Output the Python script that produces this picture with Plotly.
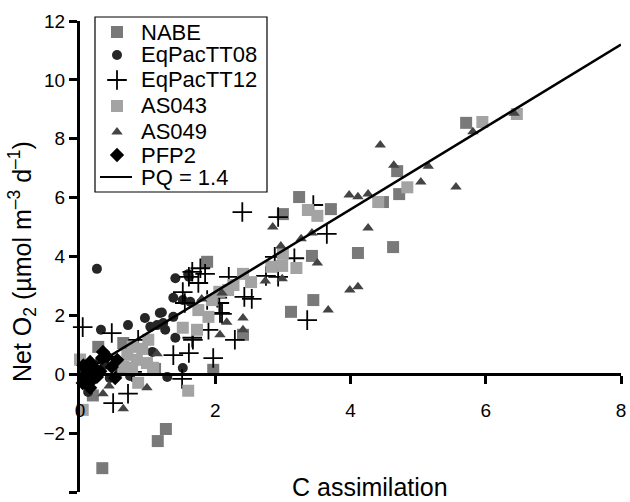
import plotly.graph_objects as go

# values (C assimilation vs net O2)
nabe_x = [5.71, 4.69, 4.72, 4.48, 4.63, 3.24, 3.71, 3.00, 4.11, 3.43, 3.45, 3.12,
          1.88, 2.41, 1.97, 0.27, 0.64, 1.11, 0.19, 1.27, 1.15, 0.33]
nabe_y = [8.54, 6.90, 6.12, 5.85, 4.32, 6.02, 5.61, 5.44, 4.12, 4.02, 2.52, 2.12,
          3.82, 1.34, 0.15, 0.93, 1.06, 0.18, -0.72, -1.86, -2.27, -3.19]

tt08_x = [0.25, 1.41, 1.61, 1.38, 1.52, 1.63, 1.21, 1.38, 1.41, 1.23, 0.31, 0.71,
          0.96, 1.18, 1.14, 1.04, 1.26, 1.07, 0.74, 1.29, 1.52, 0.03, 0.09, 0.22,
          0.37, 0.59, 0.44, 0.12, 0.30, 1.60]
tt08_y = [3.58, 3.26, 3.31, 2.60, 2.52, 2.46, 2.10, 1.95, 1.24, 1.74, 1.51, 1.67,
          1.91, 2.08, 1.67, 1.61, 1.51, 0.76, -0.06, -0.09, 0.21, -0.02, -0.36, 0.08,
          0.32, 0.08, -0.13, -0.60, 0.50, 3.40]

tt12_x = [2.40, 2.93, 3.45, 3.65, 2.88, 3.17, 2.75, 2.93, 3.36, 2.20, 2.43, 2.54,
          1.88, 2.06, 2.10, 2.29, 1.97, 1.78, 1.66, 1.61, 1.85, 1.75, 1.52, 1.55,
          2.03, 1.90, 1.66, 0.04, 0.47, 0.86, 0.77, 0.71, 1.51, 1.38, 1.61, 1.67,
          0.49, 2.07]
tt12_y = [5.51, 5.34, 5.75, 4.77, 3.99, 3.94, 3.34, 3.31, 1.84, 3.31, 2.63, 2.56,
          2.52, 2.42, 2.05, 1.17, 0.55, 3.60, 3.48, 3.31, 3.41, 3.10, 2.79, 2.42,
          2.60, 1.51, 1.24, 1.60, 1.40, 1.17, 0.08, -0.66, -0.16, 0.65, 0.72, 1.17,
          -0.98, 2.08]

as043_x = [5.95, 6.46, 4.84, 4.41, 3.37, 3.51, 3.00, 2.83, 2.99, 3.20, 2.41, 2.53,
           2.27, 2.19, 2.06, 1.95, 1.75, 1.90, 1.52, 1.73, 0.78, 0.92, 1.01, 0.00,
           0.70, 0.84, 0.99, 0.77, 0.64, 1.08, 0.86, 1.60, 0.04]
as043_y = [8.57, 8.84, 6.35, 5.85, 5.58, 5.38, 4.09, 3.65, 3.68, 3.61, 3.41, 3.13,
           3.03, 2.86, 2.80, 2.52, 2.18, 1.95, 1.58, 1.51, 0.93, 0.86, 1.17, 0.50,
           0.66, 0.49, 0.38, 0.22, 0.25, 0.22, -0.29, -0.56, -1.21]

as049_x = [5.81, 6.42, 4.44, 4.64, 5.15, 5.04, 5.56, 3.98, 4.11, 4.26, 2.85, 4.26,
           3.43, 3.27, 2.97, 3.51, 2.74, 2.99, 3.99, 4.11, 3.67, 2.10, 1.80, 2.17,
           2.41, 2.41, 2.07, 1.14, 0.99, 0.34, 0.43, 0.64]
as049_y = [8.24, 8.87, 7.79, 7.10, 7.07, 6.53, 6.36, 6.09, 6.03, 6.12, 5.00, 4.97,
           4.80, 4.60, 4.36, 3.78, 3.17, 3.24, 2.86, 2.97, 2.18, 2.76, 2.56, 1.77,
           1.91, 1.51, 1.34, 0.70, -0.46, -0.66, -0.40, -1.17]

pfp2_x = [0.15, 0.34, 0.33, 0.55, 0.47, 0.10, 0.25, 0.04, 0.15, 0.52, 0.20, 0.08,
          0.30, 0.12, 0.40, 0.05, 0.18]
pfp2_y = [0.42, 0.76, 0.55, 0.49, 0.25, 0.15, -0.09, -0.30, -0.46, -0.13, 0.25, -0.10,
          0.10, 0.05, 0.60, 0.30, -0.20]

pq = 1.4
line_x = [0, 8]
line_y = [pq * v for v in line_x]

font = "Liberation Sans, Arial, Helvetica, sans-serif"

W, H = 630, 502
L, R, T, B = 80, 9, 21, 10


def px(xp):
    # pixel column -> paper x
    return (xp - L) / (W - L - R)


def py(yp):
    # pixel row -> paper y
    return (H - B - yp) / (H - T - B)


series = [
    ("NABE", nabe_x, nabe_y, dict(symbol="square", size=12, color="#797979", line=dict(width=0))),
    ("EqPacTT08", tt08_x, tt08_y, dict(symbol="circle", size=10, color="#262626", line=dict(width=0))),
    ("EqPacTT12", tt12_x, tt12_y, dict(symbol="cross-thin", size=14, color="black",
                                       line=dict(width=1.8, color="black"))),
    ("AS043", as043_x, as043_y, dict(symbol="square", size=12, color="#a3a3a3", line=dict(width=0))),
    ("AS049", as049_x, as049_y, dict(symbol="triangle-up", size=10, color="#444444", line=dict(width=0))),
    ("PFP2", pfp2_x, pfp2_y, dict(symbol="diamond", size=11, color="black", line=dict(width=0))),
]

fig = go.Figure()
for name, xs, ys, mk in series:
    fig.add_trace(go.Scatter(x=xs, y=ys, mode="markers", name=name, cliponaxis=False,
                             marker=mk, showlegend=False))
fig.add_trace(go.Scatter(x=line_x, y=line_y, mode="lines", name="PQ = 1.4",
                         line=dict(color="black", width=2.5), showlegend=False))

# hand-made legend (tighter rows than plotly's own legend)
rows = [32, 55, 80, 106, 132, 155, 177]
annos = []
for (name, xs, ys, mk), r in zip(series, rows):
    fig.add_trace(go.Scatter(x=[px(117)], y=[py(r)], mode="markers", marker=mk,
                             xaxis="x2", yaxis="y2", showlegend=False, hoverinfo="skip",
                             cliponaxis=False))
    annos.append(dict(text=name, x=px(139), y=py(r), xref="paper", yref="paper",
                      xanchor="left", yanchor="middle", showarrow=False, font=dict(size=22)))
fig.add_trace(go.Scatter(x=[px(100), px(132)], y=[py(rows[-1])] * 2, mode="lines",
                         line=dict(color="black", width=2), xaxis="x2", yaxis="y2",
                         showlegend=False, hoverinfo="skip", cliponaxis=False))
annos.append(dict(text="PQ = 1.4", x=px(139), y=py(rows[-1]), xref="paper", yref="paper",
                  xanchor="left", yanchor="middle", showarrow=False, font=dict(size=22)))

annos.append(dict(text="C assimilation", x=px(370), y=py(487), xref="paper", yref="paper",
                  xanchor="center", yanchor="middle", showarrow=False, font=dict(size=25)))
annos.append(dict(text="Net O<sub>2</sub> (µmol m<sup>–3</sup> d<sup>–1</sup>)", x=px(22), y=py(262),
                  xref="paper", yref="paper", xanchor="center", yanchor="middle",
                  textangle=-90, showarrow=False, font=dict(size=25)))

fig.update_layout(
    width=W, height=H,
    margin=dict(l=L, r=R, t=T, b=B),
    plot_bgcolor="white", paper_bgcolor="white",
    font=dict(family=font, size=19, color="black"),
    showlegend=False,
    shapes=[dict(type="rect", xref="paper", yref="paper", x0=px(95), x1=px(267),
                 y0=py(192), y1=py(17), line=dict(color="black", width=1.2),
                 fillcolor="white", layer="below")],
    xaxis=dict(range=[0, 8], tickvals=[0, 2, 4, 6, 8], showgrid=False, zeroline=False,
               showline=True, linecolor="black", linewidth=3,
               ticks="outside", ticklen=8, tickwidth=3, tickcolor="black",
               anchor="free", position=0.25, ticklabelstandoff=10, automargin=False),
    yaxis=dict(range=[-4, 12], tickvals=[-4, -2, 0, 2, 4, 6, 8, 10, 12], showgrid=False,
               zeroline=False, showline=True, linecolor="black", linewidth=3,
               ticks="outside", ticklen=8, tickwidth=3, tickcolor="black", automargin=False),
    xaxis2=dict(range=[0, 1], overlaying="x", visible=False, anchor="y2"),
    yaxis2=dict(range=[0, 1], overlaying="y", visible=False, anchor="x2"),
    annotations=annos,
)

# the page's default body margin would push the figure 8px right and down
fig.write_html("out.html", config={"displayModeBar": False},
               post_script="document.body.style.margin='0';")
